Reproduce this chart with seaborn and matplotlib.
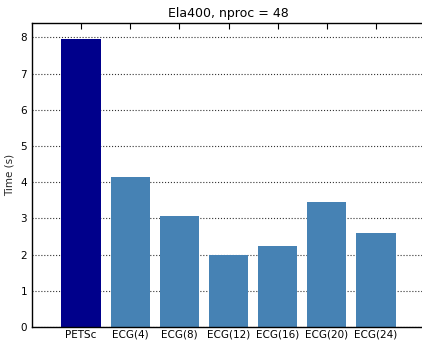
import matplotlib
matplotlib.use("Agg")
import matplotlib.pyplot as plt
import seaborn as sns
import pandas as pd

solvers = ["PETSc", "ECG(4)", "ECG(8)", "ECG(12)", "ECG(16)", "ECG(20)", "ECG(24)"]
times = [7.97, 4.14, 3.06, 1.99, 2.23, 3.45, 2.59]
bar_colors = ["darkblue", "steelblue", "steelblue", "steelblue",
              "steelblue", "steelblue", "steelblue"]

df = pd.DataFrame({"solver": solvers, "time": times})

sns.set_style("white")
plt.rcParams["font.family"] = ["DejaVu Sans"]

fig = plt.figure(figsize=(4.22, 3.41), dpi=100)
ax = fig.add_axes([32 / 422, 14 / 341, 393 / 422, 304 / 341])

sns.barplot(data=df, x="solver", y="time", hue="solver", palette=bar_colors,
            legend=False, width=0.8, saturation=1, linewidth=0, ax=ax)

ax.set_xlim(-1, 7)
ax.set_ylim(0, 8.4)
ax.set_yticks(range(0, 9))
ax.set_xlabel("")
ax.set_ylabel("Time (s)", fontsize=7.5, labelpad=4)
ax.set_title("Ela400, nproc = 48", fontsize=9, pad=4, color="black")

ax.grid(axis="y", color="#333333", linestyle=":", linewidth=0.8)
ax.set_axisbelow(True)
ax.tick_params(axis="both", direction="in", length=4, width=0.8,
               top=True, right=False, labelsize=7.5, colors="black")
ax.tick_params(axis="x", pad=2)
for s in ax.spines.values():
    s.set_color("black")
    s.set_linewidth(1.0)
ax.spines["right"].set_visible(False)

fig.savefig("out.png", dpi=100)
